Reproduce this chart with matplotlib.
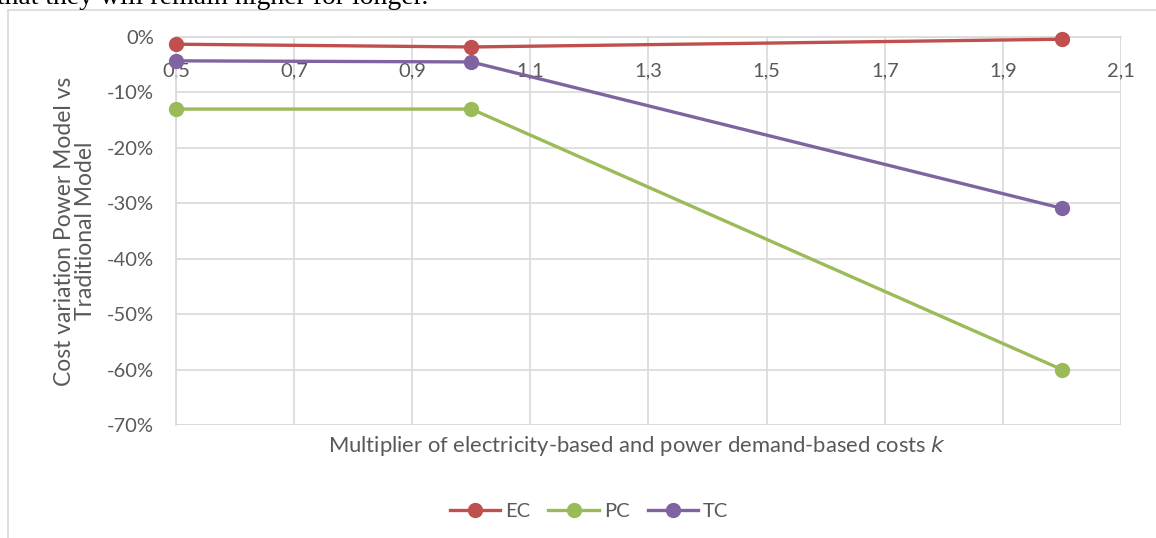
import numpy as np
import matplotlib.pyplot as plt
from matplotlib.lines import Line2D
from matplotlib.ticker import FuncFormatter, FixedLocator, MultipleLocator

k = [0.5, 1.0, 2.0]
ec = [-1.3, -1.8, -0.4]
pc = [-13.0, -13.0, -60.0]
tc = [-4.3, -4.5, -30.9]

series = [('EC', ec, '#C0504D'), ('PC', pc, '#9BBB59'), ('TC', tc, '#8064A2')]

plt.rcParams['font.family'] = ['Lato', 'DejaVu Sans']
grey = '#595959'
gridc = '#d9d9d9'

fig = plt.figure(figsize=(11.56, 5.38), dpi=100)
W, H = 1156, 538

# leftover sentence from the page above the chart
fig.text(-0.003, 1 - 4 / H, 'that they will remain higher for longer.',
         family='Liberation Serif', fontsize=20, color='black', va='baseline')

# chart frame
fig.add_artist(Line2D([8 / W, 8 / W], [0, 1 - 10 / H], color=gridc, lw=1.2))
fig.add_artist(Line2D([8 / W, 1], [1 - 10 / H, 1 - 10 / H], color=gridc, lw=1.2))

ax = fig.add_axes([176 / W, 1 - 425 / H, (1121 - 176) / W, (425 - 37) / H])
for name, vals, col in series:
    ax.plot(k, vals, color=col, lw=2.4, marker='o', markersize=10,
            label=name, zorder=3, clip_on=False)

ax.set_xlim(0.5, 2.1)
ax.set_ylim(-70, 0)
ax.xaxis.set_major_locator(FixedLocator(np.arange(0.5, 2.15, 0.2)))
ax.yaxis.set_major_locator(MultipleLocator(10))
ax.xaxis.set_major_formatter(FuncFormatter(lambda v, p: f'{v:.1f}'.replace('.', ',')))
ax.yaxis.set_major_formatter(FuncFormatter(lambda v, p: f'{v:.0f}%'))
ax.grid(True, color=gridc, lw=1.2)
ax.set_axisbelow(True)

for s in ['top', 'right']:
    ax.spines[s].set_visible(False)
ax.spines['bottom'].set_position(('data', 0))
ax.spines['bottom'].set_color(gridc)
ax.spines['left'].set_color(gridc)
ax.spines['bottom'].set_linewidth(1.2)
ax.spines['left'].set_linewidth(1.2)
ax.axhline(-70, color=gridc, lw=1.2, zorder=0.5)
ax.axvline(2.1, color=gridc, lw=1.2, zorder=0.5)

ax.tick_params(axis='both', length=0, labelsize=14.5, labelcolor=grey)
ax.tick_params(axis='x', pad=18)
ax.tick_params(axis='y', pad=16)

ax.set_ylabel('Cost variation Power Model vs\nTraditional Model',
              fontsize=16.5, color=grey, labelpad=8, linespacing=1.0)
fig.text(637 / W, 1 - 446 / H,
         'Multiplier of electricity-based and power demand-based costs $k$',
         fontsize=15.8, color=grey, ha='center', va='center')

fig.legend(loc='center', bbox_to_anchor=(589 / W, 1 - 511 / H), ncol=3,
           frameon=False, fontsize=14.5, labelcolor=grey, handlelength=2.5,
           handletextpad=0.25, columnspacing=0.9)

fig.savefig('out.png', dpi=100)
